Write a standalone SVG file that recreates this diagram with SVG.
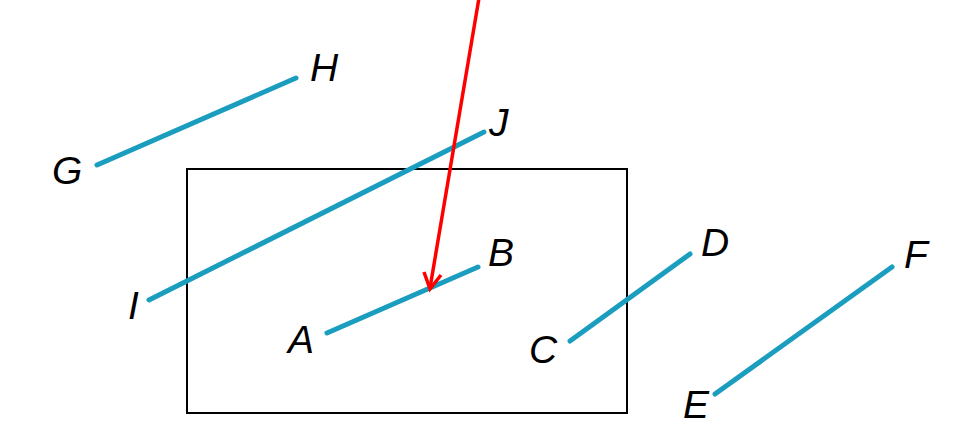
<svg xmlns="http://www.w3.org/2000/svg" width="970" height="436" viewBox="0 0 970 436">
<style>
.seg{stroke:#1b9dc0;stroke-width:5;stroke-linecap:round;fill:none}
.lbl{font-family:"Liberation Sans",Arial,sans-serif;font-style:italic;font-size:39px;fill:#000}
.frame{fill:none;stroke:#000;stroke-width:2}
.arrow{stroke:#f00;stroke-width:3.5;fill:none}
</style>
<g id="frame"><rect class="frame" x="187" y="169" width="440" height="244"/></g>
<g id="connectors">
<line class="seg" x1="97" y1="165" x2="296" y2="78"/>
<line class="seg" x1="149" y1="300" x2="484" y2="132"/>
<line class="seg" x1="327" y1="333" x2="478" y2="267"/>
<line class="seg" x1="570" y1="341" x2="690" y2="254"/>
<line class="seg" x1="715" y1="394" x2="892" y2="267"/>
<line class="arrow" x1="479" y1="-2" x2="430" y2="288"/>
<path class="arrow" d="M424,272 L430,289 L441,275"/>
</g>
<g id="labels">
<text class="lbl" x="310" y="81">H</text>
<text class="lbl" x="52" y="184">G</text>
<text class="lbl" x="489" y="136">J</text>
<text class="lbl" x="488" y="266">B</text>
<text class="lbl" x="128" y="319">I</text>
<text class="lbl" x="288" y="353">A</text>
<text class="lbl" x="529" y="363">C</text>
<text class="lbl" x="701" y="256">D</text>
<text class="lbl" x="683" y="418">E</text>
<text class="lbl" x="904" y="268">F</text>
</g>
</svg>
